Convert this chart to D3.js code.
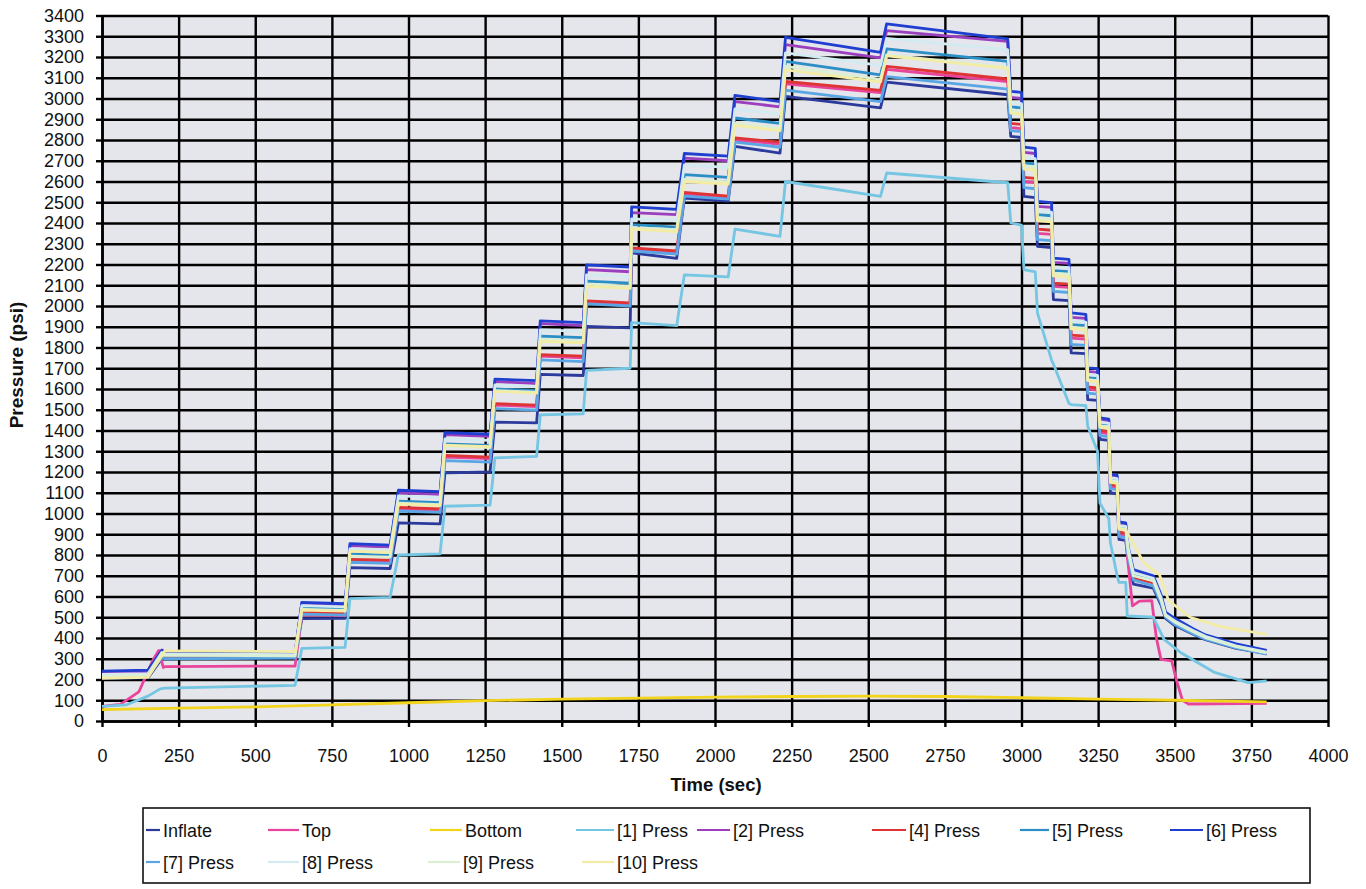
<!DOCTYPE html>
<html>
<head>
<meta charset="utf-8">
<script src="https://cdn.jsdelivr.net/npm/d3@7"></script>
<style>
  body { margin: 0; background: #fff; }
  text { font-family: "Liberation Sans", Arial, sans-serif; fill: #111; }
</style>
</head>
<body>
<svg id="chart" width="1366" height="889"></svg>
<script>
'use strict';

/* pressure test chart - stepped inflation, hold, then stepped bleed-off */

// tick labels
var xTicks = [0, 250, 500, 750, 1000, 1250, 1500, 1750, 2000, 2250, 2500, 2750, 3000, 3250, 3500, 3750, 4000];
var yTicks = [0, 100, 200, 300, 400, 500, 600, 700, 800, 900, 1000, 1100, 1200, 1300, 1400, 1500, 1600,
    1700, 1800, 1900, 2000, 2100, 2200, 2300, 2400, 2500, 2600, 2700, 2800, 2900, 3000, 3100, 3200, 3300, 3400];

// times (sec) of start / end of each pressure hold, shared by the stepped gauges
var stepTimes = [205, 630, 652, 793, 809, 940, 967, 1103, 1119, 1266, 1282, 1418, 1430, 1570, 1581, 1723,
    1728, 1875, 1900, 2043, 2065, 2212, 2230, 2540, 2560, 2955,
    2965, 3000, 3008, 3045, 3052, 3098, 3104, 3155, 3162, 3210, 3216, 3248, 3256, 3285, 3290, 3312, 3318, 3340];

// psi at those times, per gauge
var inflateVals = [300, 310, 493, 495, 739, 735, 955, 950, 1196, 1200, 1440, 1437, 1670, 1665, 1902, 1895,
    2256, 2230, 2520, 2505, 2769, 2737, 3010, 2955, 3079, 3018,
    2817, 2812, 2528, 2522, 2288, 2282, 2031, 2026, 1774, 1770, 1549, 1545, 1357, 1352, 1100, 1095, 875, 870];
var topVals = [262, 265, 512, 508, 772, 768, 1022, 1015, 1272, 1265, 1522, 1515, 1758, 1750, 2018, 2008,
    2270, 2255, 2540, 2522, 2800, 2780, 3070, 3028, 3140, 3082,
    2860, 2855, 2600, 2595, 2350, 2345, 2095, 2090, 1845, 1840, 1600, 1595, 1390, 1385, 1130, 1125, 900, 895];
var press1Vals = [158, 172, 350, 355, 590, 596, 800, 805, 1035, 1040, 1268, 1275, 1475, 1480, 1690, 1700,
    1920, 1905, 2150, 2140, 2370, 2336, 2600, 2528, 2641, 2594,
    2400, 2390, 2175, 2165, 1967, 1740, 1720, 1530, 1525, 1520, 1420, 1300, 1050, 975, 860, 700, 668, 668];
var press2Vals = [328, 325, 568, 560, 845, 838, 1100, 1092, 1380, 1372, 1636, 1626, 1915, 1905, 2175, 2165,
    2450, 2440, 2713, 2700, 2985, 2960, 3260, 3196, 3327, 3275,
    3005, 3000, 2740, 2735, 2480, 2475, 2210, 2205, 1945, 1940, 1685, 1680, 1450, 1445, 1180, 1175, 950, 945];
var press4Vals = [305, 308, 525, 520, 779, 775, 1030, 1022, 1280, 1272, 1530, 1522, 1766, 1758, 2025, 2015,
    2280, 2265, 2548, 2530, 2810, 2790, 3082, 3039, 3155, 3094,
    2880, 2875, 2620, 2615, 2370, 2365, 2110, 2105, 1860, 1855, 1610, 1605, 1400, 1395, 1140, 1135, 910, 905];
var press5Vals = [318, 315, 545, 540, 805, 798, 1060, 1052, 1335, 1328, 1600, 1592, 1855, 1848, 2120, 2110,
    2392, 2380, 2633, 2620, 2906, 2880, 3179, 3114, 3239, 3179,
    2960, 2955, 2690, 2685, 2440, 2435, 2170, 2165, 1910, 1905, 1655, 1650, 1430, 1425, 1165, 1160, 935, 930];
var press6Vals = [335, 330, 572, 565, 855, 848, 1112, 1105, 1390, 1382, 1648, 1640, 1928, 1920, 2198, 2188,
    2478, 2466, 2735, 2722, 3015, 2985, 3295, 3222, 3360, 3287,
    3034, 3030, 2766, 2760, 2504, 2498, 2231, 2225, 1967, 1960, 1702, 1698, 1461, 1455, 1190, 1185, 960, 955];
var press7Vals = [300, 303, 515, 510, 765, 760, 1012, 1005, 1255, 1248, 1505, 1498, 1740, 1732, 2010, 2000,
    2265, 2250, 2530, 2515, 2790, 2765, 3040, 2985, 3105, 3045,
    2845, 2840, 2570, 2565, 2320, 2315, 2070, 2065, 1815, 1810, 1580, 1575, 1375, 1370, 1120, 1115, 890, 885];
var press8Vals = [322, 320, 556, 550, 830, 825, 1085, 1078, 1360, 1352, 1620, 1612, 1885, 1878, 2150, 2140,
    2420, 2410, 2680, 2668, 2950, 2925, 3220, 3160, 3290, 3235,
    2980, 2975, 2715, 2710, 2458, 2452, 2190, 2185, 1928, 1922, 1670, 1665, 1440, 1435, 1172, 1168, 942, 938];
var press9Vals = [316, 314, 538, 533, 795, 790, 1050, 1043, 1325, 1318, 1592, 1585, 1840, 1832, 2105, 2095,
    2378, 2368, 2610, 2598, 2880, 2855, 3155, 3092, 3210, 3150,
    2945, 2940, 2675, 2670, 2425, 2420, 2158, 2153, 1898, 1893, 1645, 1640, 1422, 1418, 1160, 1155, 930, 925];
var press10Vals = [338, 335, 535, 530, 819, 812, 1045, 1038, 1330, 1322, 1589, 1580, 1830, 1822, 2095, 2085,
    2370, 2358, 2600, 2588, 2870, 2845, 3138, 3080, 3205, 3145,
    2930, 2925, 2660, 2655, 2410, 2405, 2145, 2140, 1890, 1885, 1640, 1635, 1415, 1410, 1150, 1145, 925, 920];

// start-up ramp before the first hold [sec, psi]
var inflateHead = [[0, 205], [150, 208], [195, 300]];
var topHead = [[0, 70], [60, 80], [120, 140], [165, 290], [185, 340], [200, 258]];
var press1Head = [[0, 70], [80, 78], [150, 120], [190, 155]];
var press2Head = [[0, 232], [150, 236], [195, 342]];
var press4Head = [[0, 212], [150, 215], [195, 310]];
var press5Head = [[0, 220], [150, 224], [195, 325]];
var press6Head = [[0, 240], [150, 245], [195, 340]];
var press7Head = [[0, 215], [150, 218], [195, 305]];
var press8Head = [[0, 225], [150, 228], [195, 330]];
var press9Head = [[0, 215], [150, 220], [195, 320]];
var press10Head = [[0, 205], [150, 210], [195, 315]];

// bleed-off tail after the last step [sec, psi]
var inflateTail = [[3348, 780], [3365, 660], [3430, 640], [3455, 560], [3470, 495], [3500, 460], [3560, 418], [3600, 392], [3700, 350], [3800, 325]];
var topTail = [[3345, 800], [3362, 555], [3385, 578], [3425, 580], [3440, 400], [3455, 297], [3490, 290], [3505, 200], [3525, 100], [3545, 82], [3800, 85]];
var press1Tail = [[3345, 506], [3430, 500], [3465, 393], [3520, 329], [3630, 234], [3740, 185], [3800, 193]];
var press2Tail = [[3348, 830], [3365, 720], [3430, 690], [3455, 600], [3470, 515], [3500, 485], [3560, 438], [3600, 410], [3700, 365], [3800, 335]];
var press4Tail = [[3348, 800], [3365, 690], [3430, 665], [3455, 580], [3470, 505], [3500, 470], [3560, 425], [3600, 398], [3700, 355], [3800, 325]];
var press5Tail = [[3348, 820], [3365, 705], [3430, 680], [3455, 590], [3470, 510], [3500, 480], [3560, 432], [3600, 405], [3700, 360], [3800, 330]];
var press6Tail = [[3348, 840], [3365, 730], [3430, 700], [3455, 610], [3470, 525], [3500, 495], [3560, 445], [3600, 415], [3700, 372], [3800, 340]];
var press7Tail = [[3348, 790], [3365, 680], [3430, 650], [3455, 570], [3470, 500], [3500, 465], [3560, 420], [3600, 395], [3700, 352], [3800, 322]];
var press8Tail = [[3348, 835], [3365, 715], [3430, 688], [3455, 596], [3470, 512], [3500, 482], [3560, 436], [3600, 408], [3700, 362], [3800, 332]];
var press9Tail = [[3348, 815], [3365, 700], [3430, 675], [3455, 585], [3470, 508], [3500, 476], [3560, 430], [3600, 402], [3700, 358], [3800, 328]];
var press10Tail = [[3348, 900], [3400, 760], [3450, 706], [3480, 580], [3550, 500], [3650, 455], [3800, 418]];

// bottom gauge never steps, own samples
var bottomTimes = [0, 250, 500, 750, 1000, 1250, 1500, 1750, 2000, 2250, 2500, 2750, 3000, 3250, 3500, 3800];
var bottomVals = [55, 62, 68, 78, 88, 98, 105, 110, 115, 118, 120, 118, 112, 105, 100, 92];

var seriesNames = ['Inflate', 'Top', 'Bottom', '[1] Press', '[2] Press', '[4] Press', '[5] Press',
    '[6] Press', '[7] Press', '[8] Press', '[9] Press', '[10] Press'];
var seriesColors = ['#2c3a9c', '#e8449c', '#f2d41c', '#74c6e2', '#9b3fbf', '#de3434', '#2b8fc6',
    '#1e3fd0', '#5aa6e4', '#d2eaf0', '#dcefd2', '#f3eca6'];

function stepped(head, vals, tail) {
    return head.concat(stepTimes.map(function (t, i) { return [t, vals[i]]; })).concat(tail);
}

var series = [
    stepped(inflateHead, inflateVals, inflateTail),
    stepped(topHead, topVals, topTail),
    bottomTimes.map(function (t, i) { return [t, bottomVals[i]]; }),
    stepped(press1Head, press1Vals, press1Tail),
    stepped(press2Head, press2Vals, press2Tail),
    stepped(press4Head, press4Vals, press4Tail),
    stepped(press5Head, press5Vals, press5Tail),
    stepped(press6Head, press6Vals, press6Tail),
    stepped(press7Head, press7Vals, press7Tail),
    stepped(press8Head, press8Vals, press8Tail),
    stepped(press9Head, press9Vals, press9Tail),
    stepped(press10Head, press10Vals, press10Tail)
];

var svg = d3.select('#chart');
var plot = { left: 102, right: 1328, top: 15.5, bottom: 721 };

var x = d3.scaleLinear().domain([0, 4000]).range([plot.left, plot.right]);
var y = d3.scaleLinear().domain([0, 3400]).range([plot.bottom, plot.top]);
var fmt = d3.format('d');

svg.append('rect').attr('width', 1366).attr('height', 889).attr('fill', '#fff');
svg.append('rect')
    .attr('x', plot.left).attr('y', plot.top)
    .attr('width', plot.right - plot.left).attr('height', plot.bottom - plot.top)
    .attr('fill', '#e5e5ec');

//grid - heavy black lines as on the print
svg.append('g')
    .attr('transform', 'translate(' + plot.left + ',0)')
    .call(d3.axisLeft(y).tickValues(yTicks).tickSize(-(plot.right - plot.left)).tickFormat(''))
    .call(function (g) {
        g.select('.domain').remove();
        g.selectAll('line').attr('stroke', '#000').attr('stroke-width', 2.4);
    });
svg.append('g')
    .attr('transform', 'translate(0,' + plot.bottom + ')')
    .call(d3.axisBottom(x).tickValues(xTicks).tickSize(-(plot.bottom - plot.top)).tickFormat(''))
    .call(function (g) {
        g.select('.domain').remove();
        g.selectAll('line').attr('stroke', '#000').attr('stroke-width', 2.4);
    });

//axes
svg.append('g')
    .attr('transform', 'translate(' + plot.left + ',0)')
    .call(d3.axisLeft(y).tickValues(yTicks).tickFormat(fmt).tickSizeInner(6).tickSizeOuter(0).tickPadding(12))
    .call(function (g) {
        g.select('.domain').attr('stroke', '#000').attr('stroke-width', 2.6);
        g.selectAll('line').attr('stroke', '#000').attr('stroke-width', 2.4);
        g.selectAll('text').attr('font-size', 18).attr('fill', '#1a1a1a')
            .style('font-family', '"Liberation Sans", Arial, sans-serif');
    });
svg.append('g')
    .attr('transform', 'translate(0,' + plot.bottom + ')')
    .call(d3.axisBottom(x).tickValues(xTicks).tickFormat(fmt).tickSizeInner(6).tickSizeOuter(0).tickPadding(22))
    .call(function (g) {
        g.select('.domain').attr('stroke', '#000').attr('stroke-width', 2.6);
        g.selectAll('line').attr('stroke', '#000').attr('stroke-width', 2.4);
        g.selectAll('text').attr('font-size', 18).attr('fill', '#1a1a1a')
            .style('font-family', '"Liberation Sans", Arial, sans-serif');
    });

//series
var line = d3.line()
    .x(function (d) { return x(d[0]); })
    .y(function (d) { return y(d[1]); });

svg.append('g').selectAll('path')
    .data(series)
    .enter().append('path')
    .attr('d', line)
    .attr('fill', 'none')
    .attr('stroke', function (d, i) { return seriesColors[i]; })
    .attr('stroke-width', 2.8)
    .attr('stroke-linejoin', 'round');

//titles
svg.append('text')
    .attr('x', 716).attr('y', 791)
    .attr('text-anchor', 'middle')
    .attr('font-size', 18.5).attr('font-weight', 'bold')
    .text('Time (sec)');
svg.append('text')
    .attr('transform', 'translate(23,365) rotate(-90)')
    .attr('text-anchor', 'middle')
    .attr('font-size', 19).attr('font-weight', 'bold')
    .text('Pressure (psi)');

//legend
var legendPos = [
    [146, 163, 837], [268, 302, 837], [430, 465, 837], [576, 617, 837],
    [697, 733, 837], [872, 909, 837], [1020, 1052, 837], [1170, 1206, 837],
    [146, 163, 869], [268, 302, 869], [428, 463, 869], [582, 617, 869]
];
svg.append('rect')
    .attr('x', 143).attr('y', 808).attr('width', 1167).attr('height', 75)
    .attr('fill', '#fff').attr('stroke', '#111').attr('stroke-width', 1.6);

var legend = svg.append('g').selectAll('g')
    .data(seriesNames)
    .enter().append('g');
legend.append('line')
    .attr('x1', function (d, i) { return legendPos[i][0]; })
    .attr('x2', function (d, i) { return legendPos[i][1] - 3; })
    .attr('y1', function (d, i) { return legendPos[i][2] - 7; })
    .attr('y2', function (d, i) { return legendPos[i][2] - 7; })
    .attr('stroke', function (d, i) { return seriesColors[i]; })
    .attr('stroke-width', 2.2);
legend.append('text')
    .attr('x', function (d, i) { return legendPos[i][1]; })
    .attr('y', function (d, i) { return legendPos[i][2]; })
    .attr('font-size', 18)
    .text(function (d) { return d; });
</script>
</body>
</html>
